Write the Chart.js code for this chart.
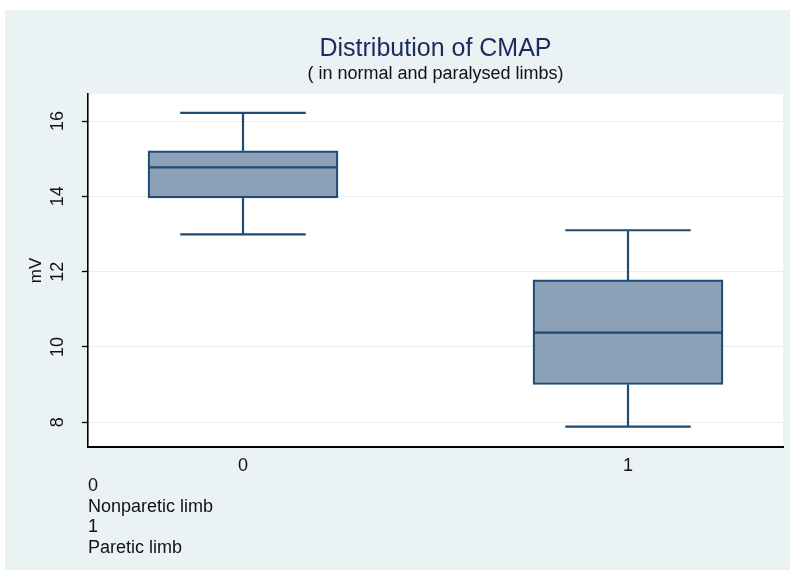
<!DOCTYPE html>
<html><head><meta charset="utf-8">
<script src="https://cdn.jsdelivr.net/npm/chart.js@4"></script>
<style>html,body{margin:0;padding:0;background:#fff;} #wrap{position:relative;width:790px;height:574px;}</style>
</head><body><div id="wrap"><canvas id="c"></canvas></div>
<script>
// ---- data ----
const categories = ['0', '1'];
const groupLabels = ['Nonparetic limb', 'Paretic limb'];
const whiskerLow  = [12.99, 7.88];
const q1          = [13.96, 9.00];
const median      = [14.77, 10.38];
const q3          = [15.21, 11.78];
const whiskerHigh = [16.22, 13.10];
const yTicks = [8, 10, 12, 14, 16];

// ---- style constants ----
const BOX_HALF = 0.246;
const CAP_HALF = 0.163;
const LINE_COLOR = '#1f4a73';
const BOX_FILL = '#8ca1b7';
const PANEL = '#eaf2f3';
const FONT = 'Liberation Sans, Arial, sans-serif';

const boxData = categories.map((c, i) => ({x: i, y: [q1[i], q3[i]]}));
const medianData = [];
const whiskerData = [];
categories.forEach((c, i) => {
  medianData.push({x: i - BOX_HALF, y: median[i]}, {x: i + BOX_HALF, y: median[i]}, {x: i, y: null});
  whiskerData.push(
    {x: i, y: q3[i]}, {x: i, y: whiskerHigh[i]}, {x: i, y: null},
    {x: i, y: q1[i]}, {x: i, y: whiskerLow[i]}, {x: i, y: null},
    {x: i - CAP_HALF, y: whiskerHigh[i]}, {x: i + CAP_HALF, y: whiskerHigh[i]}, {x: i, y: null},
    {x: i - CAP_HALF, y: whiskerLow[i]}, {x: i + CAP_HALF, y: whiskerLow[i]}, {x: i, y: null}
  );
});

const bgPlugin = {
  id: 'bg',
  beforeDraw(chart) {
    const {ctx, chartArea: a, width, height} = chart;
    ctx.save();
    ctx.fillStyle = '#ffffff';
    ctx.fillRect(0, 0, width, height);
    ctx.fillStyle = PANEL;
    ctx.fillRect(5, 10, width - 5, 560);
    ctx.fillStyle = '#ffffff';
    ctx.fillRect(a.left, a.top, a.right - a.left, a.bottom - a.top);
    ctx.restore();
  }
};

new Chart(document.getElementById('c'), {
  type: 'bar',
  data: {
    datasets: [
      {type: 'line', data: medianData, borderColor: LINE_COLOR, borderWidth: 2.2, pointRadius: 0, spanGaps: false, order: 0},
      {type: 'line', data: whiskerData, borderColor: LINE_COLOR, borderWidth: 2.2, pointRadius: 0, spanGaps: false, order: 0},
      {type: 'bar', data: boxData, backgroundColor: BOX_FILL, borderColor: LINE_COLOR, borderWidth: 2.2,
       borderSkipped: false, barThickness: 190, order: 1}
    ]
  },
  options: {
    responsive: true,
    maintainAspectRatio: false,
    animation: false,
    layout: {padding: {left: 0, right: 7, top: 0, bottom: 16}},
    plugins: {
      legend: {display: false},
      tooltip: {enabled: false},
      title: {display: true, text: 'Distribution of CMAP', fullSize: false, color: '#1c2a5e',
              font: {family: FONT, size: 25, weight: 'normal', lineHeight: '29px'}, padding: {top: 35, bottom: 0}},
      subtitle: {display: true, text: '( in normal and paralysed limbs)', fullSize: false, color: '#111',
              font: {family: FONT, size: 18, weight: 'normal', lineHeight: '20px'}, padding: {top: 0, bottom: 10}}
    },
    scales: {
      x: {
        type: 'linear',
        offset: false,
        min: -0.4026, max: 1.4026,
        afterBuildTicks(s) { s.ticks = categories.map((c, i) => ({value: i})); },
        afterFit(s) { s.height = 111; },
        ticks: {color: '#111', padding: 9, font: {family: FONT, size: 18, lineHeight: '20px'}, callback: (v) => categories[v]},
        grid: {display: false, drawTicks: false},
        border: {display: true, color: '#000', width: 2},
        title: {display: true, align: 'start', color: '#111',
                text: [categories[0], groupLabels[0], categories[1], groupLabels[1]],
                font: {family: FONT, size: 18, lineHeight: '20.5px'}, padding: {top: 0, bottom: 0}}
      },
      y: {
        min: 7.34, max: 16.72,
        afterBuildTicks(s) { s.ticks = yTicks.map(v => ({value: v})); },
        afterFit(s) { s.width = 88; },
        ticks: {color: '#111', padding: 14, minRotation: 90, maxRotation: 90, crossAlign: 'center',
                font: {family: FONT, size: 18}},
        grid: {color: '#e6eef1', lineWidth: 1, tickColor: '#000', tickLength: 6, tickWidth: 1.3},
        border: {display: true, color: '#000', width: 1.6},
        title: {display: true, text: 'mV', color: '#111', font: {family: FONT, size: 17, lineHeight: 1.2},
                padding: {top: 26, bottom: 0}}
      }
    }
  },
  plugins: [bgPlugin]
});
</script>
</body></html>
